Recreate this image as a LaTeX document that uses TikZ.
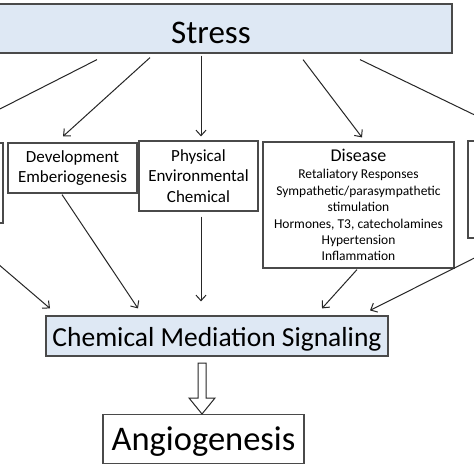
\documentclass[tikz,border=0pt]{standalone}
\usepackage{fontspec}
\setmainfont{Carlito}
\usetikzlibrary{arrows.meta,calc}
\definecolor{boxblue}{HTML}{DEE8F4}
\definecolor{edge}{HTML}{4A4A4A}
\begin{document}
\begin{tikzpicture}[x=1pt,y=-1pt,
  box/.style={draw=edge, line width=1.2pt, align=center, inner sep=0pt, text=black},
  arr/.style={-{Straight Barb[length=5.5pt,width=10pt]}, line width=1pt, draw=black!85},
  hollow/.style={draw=black!85, line width=1pt, fill=white, line join=miter}
  ]
\useasboundingbox (0,0) rectangle (474,474);
\clip (0,0) rectangle (474,474);
\fill[white] (0,0) rectangle (474,474);
% top
\node[box, fill=boxblue, minimum width=482pt, minimum height=49pt,
      font=\fontsize{33}{39}\selectfont, text height=29pt, text depth=0pt] (stress) at (211,28.5) {Stress};
% middle row
\node[box, minimum width=133pt, minimum height=80pt] (left) at (-63.5,183) {};
\node[box, minimum width=129pt, minimum height=50pt, font=\fontsize{17}{20.4}\selectfont] (dev) at (72.5,168) {Development\\Emberiogenesis};
\node[box, minimum width=119pt, minimum height=70pt, font=\fontsize{17}{20.5}\selectfont] (phys) at (198.5,176) {Physical\\Environmental\\Chemical};
\node[box, minimum width=191pt, minimum height=126pt, font=\fontsize{13.5}{16.4}\selectfont] (dis) at (358.5,205)
  {{\fontsize{18}{20}\selectfont Disease}\\[1pt]Retaliatory Responses\\Sympathetic/parasympathetic\\stimulation\\Hormones, T3, catecholamines\\Hypertension\\Inflammation};
\node[box, minimum width=132pt, minimum height=97pt] (right) at (534,189.5) {};
% bottom
\node[box, fill=boxblue, minimum width=342pt, minimum height=40pt,
      font=\fontsize{27.5}{32}\selectfont, text height=21.4pt, text depth=0pt] (cms) at (217,336) {Chemical Mediation Signaling};
\node[box, minimum width=201pt, minimum height=49pt,
      font=\fontsize{34.5}{40}\selectfont, text height=23.8pt, text depth=0pt] (ang) at (203.5,438.8) {Angiogenesis};
% connectors from Stress
\draw[arr] ($(stress.south)+(-114,6)$) -- ($(left.north)+(9.5,-6)$);
\draw[arr] ($(stress.south)+(-61,4)$) -- ($(dev.north)+(-9.5,-6)$);
\draw[arr] ($(stress.south)+(-10,2)$) -- ($(phys.north)+(2.5,-4)$);
\draw[arr] ($(stress.south)+(92,6)$) -- ($(dis.north)+(3.5,-4)$);
\draw[arr] ($(stress.south)+(149,6)$) -- ($(right.north)+(-15,-4)$);
% connectors into CMS
\draw[arr] ($(left.south)+(15.5,1)$) -- ($(cms.north)+(-167,-7)$);
\draw[arr] ($(dev.south)+(-10.5,1)$) -- ($(cms.north)+(-79,-7)$);
\draw[arr] ($(phys.south)+(2.5,5)$) -- ($(cms.north)+(-16,-14)$);
\draw[arr] ($(dis.south)+(-1.5,1)$) -- ($(cms.north)+(105,-7)$);
\draw[arr] ($(right.south)+(-23,1)$) -- ($(cms.north)+(153,-5)$);
% hollow block arrow
\draw[hollow] (198,363) -- (206,363) -- (206,398) -- (215,398) -- (202,414) -- (189,398) -- (198,398) -- cycle;
\end{tikzpicture}
\end{document}
